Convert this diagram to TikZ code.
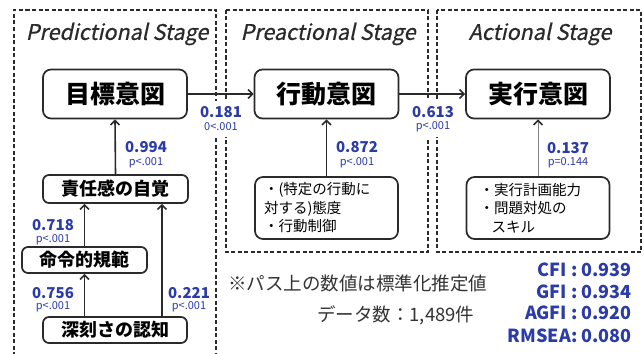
\documentclass[tikz,border=0pt]{standalone}
\usepackage{fontspec}
\setmainfont{Noto Sans CJK JP}
\newfontfamily\stagefont[FakeSlant=0.22,FakeBold=0.6]{Noto Sans CJK JP}
\usetikzlibrary{arrows.meta}
\definecolor{coefblue}{HTML}{2B3BA8}
\definecolor{ink}{HTML}{2A2A2A}
\definecolor{notegray}{HTML}{333333}
\begin{document}
\begin{tikzpicture}[x=1pt,y=-1pt,
  stagebox/.style={draw=ink,line width=1.3pt,dash pattern=on 4pt off 2.5pt},
  stagetitle/.style={inner sep=0pt,text=ink,font=\stagefont\fontsize{21.5}{21.5}\selectfont},
  mainbox/.style={draw=ink,line width=1.7pt,rounded corners=8pt,minimum width=144pt,minimum height=49pt,inner sep=0pt,font=\bfseries\fontsize{25}{25}\selectfont,text=black},
  subbox/.style={draw=ink,line width=1.7pt,rounded corners=6pt,inner sep=0pt,font=\bfseries\fontsize{18}{18}\selectfont,text=black},
  listbox/.style={draw=ink,line width=1.7pt,rounded corners=8pt,minimum width=143pt,minimum height=62pt,inner ysep=0pt,align=left,font=\fontsize{14.5}{18.5}\selectfont,text=black},
  arr/.style={draw=ink,line width=1.6pt,-{Straight Barb[length=4.5pt,width=9pt]}},
  arrthin/.style={draw=gray,line width=0.8pt,-{Straight Barb[length=4.5pt,width=9pt,line width=1.6pt,color=ink]}},
  coef/.style={inner sep=0pt,text=coefblue,font=\bfseries\fontsize{15}{15}\selectfont},
  pval/.style={inner sep=0pt,text=coefblue,font=\fontsize{11}{11}\selectfont},
  cover/.style={fill=white,inner sep=0pt,minimum width=40pt,minimum height=36pt},
  note/.style={inner sep=0pt,text=notegray,font=\fontsize{18.5}{18.5}\selectfont},
  fit/.style={inner sep=0pt,anchor=east,text=coefblue,font=\bfseries\fontsize{18}{18}\selectfont}
]
\useasboundingbox (0,0) rectangle (644,353);
\fill[white] (0,0) rectangle (644,353);

% stage frames
\draw[stagebox] (14,356) -- (14,10) -- (216,10) -- (216,356);
\draw[stagebox] (226,10) rectangle (428,252);
\draw[stagebox] (437,10) rectangle (641,252);

\node[stagetitle] (t1) at (117,34) {Predictional Stage};
\node[stagetitle] (t2) at (328,34) {Preactional Stage};
\node[stagetitle] (t3) at (540,34) {Actional Stage};

% white patches behind the labels that sit on the frame gaps
\node[cover] (w1) at (221,119) {};
\node[cover] (w2) at (433,119) {};

% nodes
\node[mainbox] (goal) at (115,94) {目標意図};
\node[mainbox] (beh) at (326.5,94) {行動意図};
\node[mainbox] (imp) at (538,94) {実行意図};
\node[subbox,minimum width=145pt,minimum height=28pt] (resp) at (115.5,189) {責任感の自覚};
\node[subbox,minimum width=125pt,minimum height=26pt] (norm) at (84.5,260) {命令的規範};
\node[subbox,minimum width=144pt,minimum height=26pt] (sev) at (115,330) {深刻さの認知};
\node[listbox,inner xsep=9pt,text width=125pt] (att) at (326.5,208) {・(特定の行動に\\対する)態度\\・行動制御};
\node[listbox,inner xsep=13pt,text width=117pt] (skill) at (538,208) {・実行計画能力\\・問題対処の\\\hspace*{12pt}スキル};

\coordinate (rx) at (162,0);

% arrows
\draw[arr] (sev.north -| norm) -- (norm.south);
\draw[arr] (sev.north -| rx) -- (resp.south -| rx);
\draw[arr] (norm.north) -- (norm.north |- resp.south);
\draw[arr] (resp.north) -- (goal.south);
\draw[arr] (goal.east) -- (beh.west);
\draw[arr] (beh.east) -- (imp.west);
\draw[arr] (att.north) -- (beh.south);
\draw[arrthin] (skill.north) -- (imp.south);

% coefficients
\node[coef] (c1) at (146,147) {0.994};
\node[pval] (p1) at (146,163) {p<.001};
\node[coef] (c2) at (221,112) {0.181};
\node[pval] (p2) at (221,127) {0<.001};
\node[coef] (c3) at (433,112) {0.613};
\node[pval] (p3) at (433,127) {p<.001};
\node[coef] (c4) at (357,147) {0.872};
\node[pval] (p4) at (357,163) {p<.001};
\node[coef] (c5) at (568,148) {0.137};
\node[pval] (p5) at (568,163) {p=0.144};
\node[coef] (c6) at (53,225) {0.718};
\node[pval] (p6) at (53,240) {p<.001};
\node[coef] (c7) at (53,293) {0.756};
\node[pval] (p7) at (53,307) {p<.001};
\node[coef] (c8) at (189,293) {0.221};
\node[pval] (p8) at (189,307) {p<.001};

% notes
\node[note,anchor=west] (n1) at (228,283) {※パス上の数値は標準化推定値};
\node[note,anchor=west] (n2) at (317,315) {データ数：1,489件};

\node[fit] (f1) at (632,270) {CFI : 0.939};
\node[fit] (f2) at (632,292) {GFI : 0.934};
\node[fit] (f3) at (632,313) {AGFI : 0.920};
\node[fit] (f4) at (632,336) {RMSEA: 0.080};
\end{tikzpicture}
\end{document}
